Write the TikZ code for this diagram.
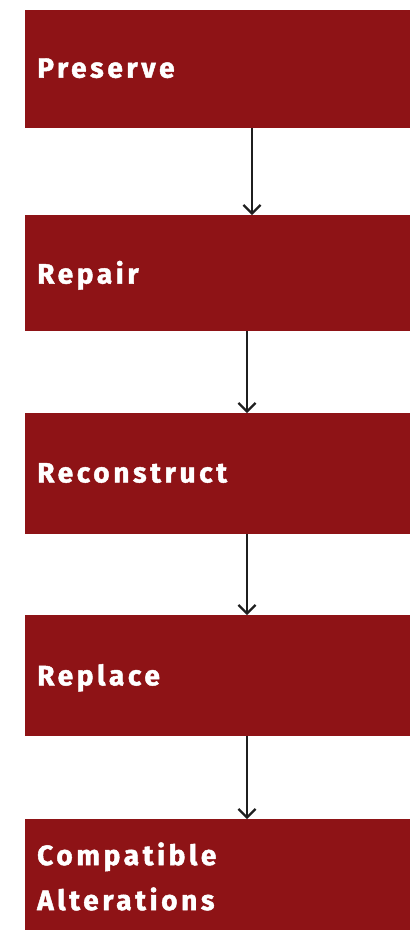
\documentclass[tikz,border=0pt]{standalone}
\usepackage{fontspec}
\usetikzlibrary{positioning,calc,arrows.meta}
\newfontfamily\stepfont[LetterSpace=13,BoldFeatures={FakeBold=1.6}]{Fira Sans}
\definecolor{StepRed}{RGB}{142,19,22}

\begin{document}
\begin{tikzpicture}[
    x=1pt,
    y=-1pt,
    font=\stepfont\bfseries\fontsize{28}{45}\selectfont,
    stage/.style={
        fill=StepRed,
        text=white,
        anchor=north west,
        align=left,
        text width=361pt,
        inner xsep=12pt,
        inner ysep=0pt,
        minimum width=385pt
    },
    arrow/.style={
        -{Straight Barb[length=3mm,width=6mm]},
        line width=2.2pt,
        draw=black!88
    }
]

\useasboundingbox (0,0) rectangle (410,930);

\node[stage, minimum height=118.5pt, text depth=2pt] (preserve) at (25,9.5) {Preserve};
\node[stage, minimum height=116pt, text depth=2pt] (repair) at (25,215) {Repair};
\node[stage, minimum height=121pt, text depth=2pt] (reconstruct) at (25,413) {Reconstruct};
\node[stage, minimum height=121pt, text depth=2pt] (replace) at (25,615) {Replace};
\node[stage, minimum height=111pt, text depth=42pt] (compatible) at (25,819) {Compatible\\Alterations};

\draw[arrow] ([xshift=227pt]preserve.south west) -- ([xshift=227pt]repair.north west);
\draw[arrow] ([xshift=222pt]repair.south west) -- ([xshift=222pt]reconstruct.north west);
\draw[arrow] ([xshift=222pt]reconstruct.south west) -- ([xshift=222pt]replace.north west);
\draw[arrow] ([xshift=222pt]replace.south west) -- ([xshift=222pt]compatible.north west);

\end{tikzpicture}
\end{document}
